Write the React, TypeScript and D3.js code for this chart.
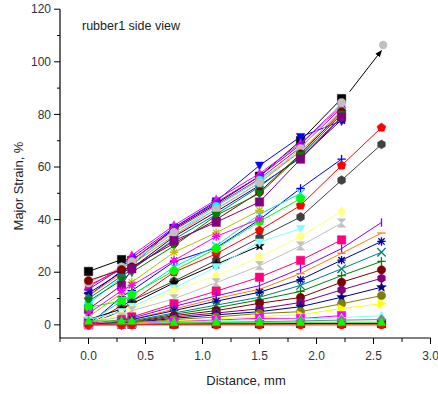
import React from 'react';
import * as d3 from 'd3';

// distance along the sample, mm
const distances = [0, 0.29, 0.38, 0.75, 1.12, 1.5, 1.86, 2.22, 2.57];

// major strain, % (null = not measured)
const topGroup = [
  [20.3, 24.8, 24.5, 36.5, 46, 56.5, 70, 86, null],
  [11, 20.5, 22.5, 37, 47, 60.6, 71.5, 77.5, null],
  [14.3, 22, 26.4, 37.8, 47.6, 57.5, 69, 83, null],
  [13.5, 21.5, 25.5, 37, 46.5, 56.5, 68.5, 84, null],
  [15, 21, 24.5, 36, 45.5, 55.5, 67.5, 82.5, null],
  [8, 18, 23.5, 35, 45, 55, 66, 81.5, null],
  [11, 19.5, 23, 34, 44, 54, 66, 80, null],
  [12, 20, 21.5, 33.5, 43, 53, 63.5, 78, null],
  [10, 18.5, 21, 32.5, 42, 52.5, 64, 79, null],
  [16, 22, 24, 35, 43.9, 54, 67, 84.5, null],
  [16.8, 21, 22, 31, 40, 50.5, 65, 81, null],
  [9, 17, 20, 30, 41.6, 49.9, 64.5, 80, null],
  [6, 15, 21.3, 32, 39, 46.7, 63, 79, null],
];

const midGroup = [
  [0, 10.7, 13, 24, 29.3, 40, 51.9, 63, null],
  [0, 7.3, 9, 20, 27, 35.9, 45.4, 60.6, 75],
  [0, 5.4, 9.2, 16.6, 24.5, 33.1, 41, 55, 68.6],
  [1, 9, 11, 22, 30, 42, 50, null, null],
  [6.7, 9, 11.5, 20.6, 29, 39.3, 48, null, null],
  [3, 12, 16.2, 27.6, 35, 43.5, null, null, null],
  [4.3, 13, 15, 24.5, 33.6, 40.3, null, null, null],
  [2, 6, 8, 16, 23, 30, null, null, null],
  [2, 5, 7, 14, 22, 31.4, 36.6, null, null],
  [1, 4, 6, 13, 18.7, 25.7, 33.6, 43, null],
  [1, 3, 5.4, 9.9, 16, 22.5, 30, 38.7, null],
  [0.5, 2, 3, 8, 12.8, 18.1, 24.5, 32.3, null],
];

const lowGroup = [
  [0.3, 0.3, 0.3, 0.3, 0.4, 0.4, 0.5, 0.5, 0.5],
  [0, 1.5, 2.5, 7, 11, 14.9, 21.4, 29, 38.9],
  [0, 1.3, 2, 6, 10, 13.5, 19.5, 27.2, 34.9],
  [0, 1, 2, 5.4, 9, 12.4, 17.2, 24.6, 31.7],
  [0, 1, 1.5, 4.5, 7.5, 10.5, 15, 21.3, 27.6],
  [0, 0.8, 1.2, 4, 6.5, 9.5, 12.7, 18.7, 24.1],
  [0, 0.8, 1, 3.5, 5.4, 8.2, 10.4, 16.2, 20.9],
  [0, 0.6, 0.8, 3, 4.5, 6.1, 8.5, 13.3, 17.7],
  [0, 0.5, 0.7, 2.5, 3.8, 5, 6.9, 10.5, 14.3],
  [0, 0.4, 0.6, 2, 3, 4.3, 5, 8, 11.1],
  [0, 0.3, 0.5, 1.5, 2.2, 3.2, 3.8, 6.2, 8],
  [0, 0.3, 0.4, 1.2, 1.8, 2.5, 2.4, 3.5, null],
  [0, 0.2, 0.3, 1, 1.5, 2, 2.2, 2.7, 3.5],
  [0, 0, 0.2, 0.6, 0.9, 1.2, 1.5, 1.8, 2],
  [0, 0, 0, 0, 0, 0, 0, 0, 0],
  [1.5, 1.5, 1.5, 1, 1, 1, 1, 1, 1],
];

// extrapolated point + arrow from the last measured point
const extraPoint = [2.585, 106.4];
const arrowFrom = [2.29, 88.6];
const arrowTo = [2.57, 104.3];

const xTicks = [0, 0.5, 1, 1.5, 2, 2.5, 3];
const yTicks = [0, 20, 40, 60, 80, 100, 120];

const topStyle = [
  ['#000000', 'square'], ['#0000FF', 'triDown'], ['#FF00FF', 'triUp'], ['#8000FF', 'triLeft'],
  ['#FF0080', 'triRight'], ['#00FFFF', 'circle'], ['#FF8000', 'triRight'], ['#000080', 'triLeft'],
  ['#008080', 'diamond'], ['#C0C0C0', 'circle'], ['#800000', 'circle'], ['#008000', 'triDown'],
  ['#800080', 'square'],
];
const midStyle = [
  ['#0000FF', 'plus'], ['#FF0000', 'pentagon'], ['#404040', 'hexagon'], ['#00E0E0', 'x'],
  ['#00FF00', 'circle'], ['#C0C000', 'asterisk'], ['#FF00FF', 'asterisk'], ['#000000', 'star'],
  ['#80FFFF', 'triDown'], ['#FFFF80', 'diamond'], ['#C0C0C0', 'hourglass'], ['#FF0080', 'square'],
];
const lowStyle = [
  ['#000000', 'square'], ['#8000FF', 'vline'], ['#FF8000', 'hline'], ['#0000A0', 'asterisk'],
  ['#008080', 'x'], ['#008000', 'plus'], ['#800000', 'circle'], ['#800080', 'hexagon'],
  ['#000080', 'star'], ['#808000', 'circle'], ['#FFFF00', 'triRight'], ['#FF00FF', 'square'],
  ['#80FFFF', 'triUp'], ['#808080', 'diamond'], ['#FF0000', 'circle'], ['#00FF00', 'triUp'],
];

const W = 438, H = 394;
const x = d3.scaleLinear().domain([-0.25, 3]).range([60, 430.5]);
const y = d3.scaleLinear().domain([-5, 120]).range([338, 9.2]);

const strokeOnly = new Set(['plus', 'x', 'asterisk', 'vline', 'hline']);

function poly(n, r, rot) {
  const pts = d3.range(n).map(i => {
    const a = rot + (i * 2 * Math.PI) / n;
    return [r * Math.cos(a), r * Math.sin(a)];
  });
  return 'M' + pts.map(p => p.join(',')).join('L') + 'Z';
}

function symbolPath(kind, r) {
  switch (kind) {
    case 'square': return `M${-r},${-r}h${2 * r}v${2 * r}h${-2 * r}Z`;
    case 'circle': return `M${r},0A${r},${r} 0 1,1 ${-r},0A${r},${r} 0 1,1 ${r},0Z`;
    case 'triUp': return `M0,${-r * 1.1}L${r},${r * 0.8}L${-r},${r * 0.8}Z`;
    case 'triDown': return `M0,${r * 1.1}L${r},${-r * 0.8}L${-r},${-r * 0.8}Z`;
    case 'triLeft': return `M${-r * 1.1},0L${r * 0.8},${-r}L${r * 0.8},${r}Z`;
    case 'triRight': return `M${r * 1.1},0L${-r * 0.8},${-r}L${-r * 0.8},${r}Z`;
    case 'diamond': return `M0,${-r * 1.2}L${r},0L0,${r * 1.2}L${-r},0Z`;
    case 'pentagon': return poly(5, r * 1.1, -Math.PI / 2);
    case 'hexagon': return poly(6, r * 1.05, -Math.PI / 2);
    case 'star': {
      const pts = d3.range(10).map(i => {
        const rr = i % 2 ? r * 0.5 : r * 1.2;
        const a = -Math.PI / 2 + (i * Math.PI) / 5;
        return [rr * Math.cos(a), rr * Math.sin(a)];
      });
      return 'M' + pts.map(p => p.join(',')).join('L') + 'Z';
    }
    case 'hourglass': return `M${-r},${-r}H${r}L${-r},${r}H${r}Z`;
    case 'plus': return `M${-r},0H${r}M0,${-r}V${r}`;
    case 'x': return `M${-r},${-r}L${r},${r}M${-r},${r}L${r},${-r}`;
    case 'asterisk': return `M${-r},0H${r}M0,${-r}V${r}M${-r * 0.75},${-r * 0.75}L${r * 0.75},${r * 0.75}M${-r * 0.75},${r * 0.75}L${r * 0.75},${-r * 0.75}`;
    case 'vline': return `M0,${-r}V${r}`;
    case 'hline': return `M${-r},0H${r}`;
    default: return '';
  }
}

const font = '"Liberation Sans", Arial, sans-serif';

function Series({ values, color, kind }) {
  const pts = values.map((v, i) => [distances[i], v]);
  const line = d3.line()
    .defined(d => d[1] != null)
    .x(d => x(d[0]))
    .y(d => y(d[1]));
  const so = strokeOnly.has(kind);
  return (
    <g>
      <path d={line(pts)} fill="none" stroke={color} strokeWidth={1} />
      {pts.filter(d => d[1] != null).map((d, i) => (
        <path key={i} transform={`translate(${x(d[0])},${y(d[1])})`} d={symbolPath(kind, 4.2)}
          fill={so ? 'none' : color} stroke={color} strokeWidth={so ? 1.3 : 0.5} />
      ))}
    </g>
  );
}

export default function App() {
  const minorX = d3.range(-0.25, 3.01, 0.25).filter(v => !xTicks.some(t => Math.abs(t - v) < 1e-6));
  const minorY = d3.range(-10, 121, 10).filter(v => v >= -5 && v % 20 !== 0);
  const all = [
    ...topGroup.map((v, i) => ({ v, c: topStyle[i][0], k: topStyle[i][1] })),
    ...midGroup.map((v, i) => ({ v, c: midStyle[i][0], k: midStyle[i][1] })),
    ...lowGroup.map((v, i) => ({ v, c: lowStyle[i][0], k: lowStyle[i][1] })),
  ];
  return (
    <svg width={W} height={H} style={{ position: 'absolute', left: 0, top: 0, background: '#fff' }}
      fontFamily={font}>
      <defs>
        <marker id="arr" viewBox="0 0 10 10" refX="9" refY="5" markerWidth="7" markerHeight="7" orient="auto">
          <path d="M0,1L10,5L0,9Z" fill="#000" />
        </marker>
      </defs>
      <text x={82} y={30} fontSize={12.5} fill="#222">rubber1 side view</text>

      {all.map((s, i) => <Series key={i} values={s.v} color={s.c} kind={s.k} />)}

      <line x1={x(arrowFrom[0])} y1={y(arrowFrom[1])} x2={x(arrowTo[0])} y2={y(arrowTo[1])}
        stroke="#000" strokeWidth={1} markerEnd="url(#arr)" />
      <circle cx={x(extraPoint[0])} cy={y(extraPoint[1])} r={4.2} fill="#C0C0C0" />

      {/* axes */}
      <line x1={60} x2={60} y1={y(120)} y2={338} stroke="#000" strokeWidth={1.2} />
      <line x1={60} x2={430.5} y1={338} y2={338} stroke="#000" strokeWidth={1.2} />
      {yTicks.map(t => (
        <g key={t}>
          <line x1={54} x2={60} y1={y(t)} y2={y(t)} stroke="#000" />
          <text x={51} y={y(t)} dy="0.35em" textAnchor="end" fontSize={12} fill="#333">{t}</text>
        </g>
      ))}
      {minorY.map(t => <line key={t} x1={57} x2={60} y1={y(t)} y2={y(t)} stroke="#000" />)}
      {xTicks.map(t => (
        <g key={t}>
          <line x1={x(t)} x2={x(t)} y1={338} y2={344} stroke="#000" />
          <text x={x(t)} y={360} textAnchor="middle" fontSize={12} fill="#333">{t.toFixed(1)}</text>
        </g>
      ))}
      {minorX.map(t => <line key={t} x1={x(t)} x2={x(t)} y1={338} y2={342} stroke="#000" />)}

      <text x={246} y={385} textAnchor="middle" fontSize={13} fill="#222">Distance, mm</text>
      <text transform="translate(23,186) rotate(-90)" textAnchor="middle" fontSize={13} fill="#222">Major Strain, %</text>
    </svg>
  );
}
